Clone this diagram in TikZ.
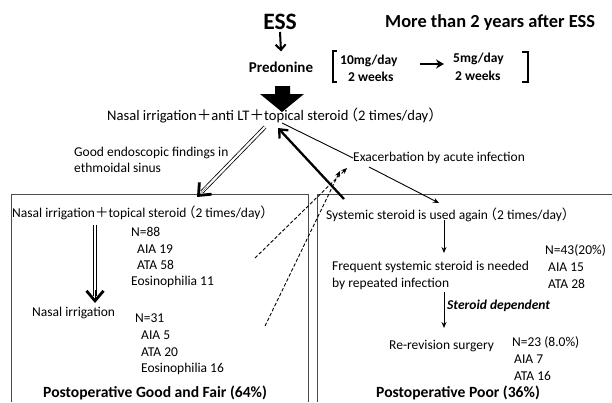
\documentclass[tikz,border=0pt]{standalone}
\usepackage{fontspec}
\setmainfont{Carlito}
\newfontfamily\cjk{Noto Sans CJK JP}
\usetikzlibrary{arrows.meta,calc}
\newcommand\fplus{{\cjk ＋}}
\newcommand\flp{\kern-0.33em{\cjk （}}
\newcommand\frp{{\cjk ）}}
\begin{document}
\begin{tikzpicture}[x=1pt,y=-1pt,
  txt/.style={inner sep=0pt, anchor=west, font=\fontsize{13.5}{16}\selectfont},
  bigtxt/.style={inner sep=0pt, anchor=west, font=\fontsize{14.6}{17}\selectfont},
  btxt/.style={inner sep=0pt, anchor=west, font=\bfseries\fontsize{13.5}{16}\selectfont},
  ttl/.style={inner sep=0pt, anchor=west, font=\bfseries\fontsize{15.6}{18}\selectfont},
  boxline/.style={draw=black!70, line width=0.8pt},
  thinarrow/.style={line width=0.9pt, -{Stealth[length=6pt,width=5pt]}},
  dasharrow/.style={line width=0.9pt, dash pattern=on 3.5pt off 2pt, -{Stealth[length=6pt,width=5pt]}},
  dblline/.style={line width=0.8pt, double=white, double distance=2.2pt},
  chevron/.style={line width=0.1pt, -{Straight Barb[line width=2.8pt,length=10pt,width=17pt]}}]
\useasboundingbox[fill=white] (0,0) rectangle (612,402);

% top part
\node[inner sep=0pt, font=\bfseries\fontsize{23.5}{26}\selectfont] (ess) at (280,22) {ESS};
\node[inner sep=0pt, font=\bfseries\fontsize{18.4}{21}\selectfont, anchor=west] (more) at (385,22) {More than 2 years after ESS};
\node[inner sep=0pt, font=\bfseries\fontsize{15}{17}\selectfont] (pred) at (281,67) {Predonine};
\draw[line width=2pt, -{Straight Barb[length=5.5pt,width=10pt]}] ([yshift=-2pt]ess.south) -- ([yshift=10pt]pred.north);

\node[btxt] (d10) at (340,61) {10mg/day};
\node[btxt] (w1) at (348,77) {2 weeks};
\node[btxt] (d5) at (453,59) {5mg/day};
\node[btxt] (w2) at (455,76) {2 weeks};
\draw[line width=1.3pt] (337,51) -- (333,51) -- (333,82) -- (337,82);
\draw[line width=1.3pt] (522,52) -- (528,52) -- (528,82) -- (522,82);
\coordinate (ar1) at (420,64);
\coordinate (ar2) at (444,64);
\draw[line width=2pt, -{Stealth[length=8pt,width=9pt]}] (ar1) -- (ar2);

% block arrow
\fill[black] (275,86) -- (290,86) -- (290,94) -- (304,94) -- (282,112) -- (260,94) -- (275,94) -- cycle;

\node[bigtxt] (main) at (107,116) {Nasal irrigation\fplus anti LT\fplus topical steroid\flp 2 times/day\frp};

\node[txt, align=left] (good) at (74,160) {Good endoscopic findings in\\ethmoidal sinus};
\node[txt] (exac) at (353,158) {Exacerbation by acute infection};

% boxes
\draw[boxline] (11,402) -- (11,194) -- (308,194) -- (308,402);
\draw[boxline] (317,402) -- (317,194) -- (612,194);

% left box
\node[txt] (nt) at (12,213) {Nasal irrigation\fplus topical steroid\flp 2 times/day\frp};
\node[txt] (n88) at (131,232) {N=88};
\node[txt] (a19) at (137,249) {AIA 19};
\node[txt] (t58) at (137,265) {ATA 58};
\node[txt] (e11) at (131,282) {Eosinophilia 11};
\node[txt] (ni) at (32,313) {Nasal irrigation};
\node[txt] (n31) at (135,318) {N=31};
\node[txt] (a5) at (141,335) {AIA 5};
\node[txt] (t20) at (141,352) {ATA 20};
\node[txt] (e16) at (141,369) {Eosinophilia 16};
\node[ttl] (pg) at (43,393) {Postoperative Good and Fair (64\%)};

% right box
\node[txt] (sys) at (326,215) {Systemic steroid is used again\flp 2 times/day\frp};
\node[txt] (n43) at (545,250) {N=43(20\%)};
\node[txt] (freq) at (332,267) {Frequent systemic steroid is needed};
\node[txt] (a15) at (548,267) {AIA 15};
\node[txt] (rep) at (332,284) {by repeated infection};
\node[txt] (t28) at (548,284) {ATA 28};
\node[txt, font=\bfseries\itshape\fontsize{13.5}{16}\selectfont] (sd) at (447,306) {Steroid dependent};
\node[txt] (rr) at (389,346) {Re-revision surgery};
\node[txt] (n23) at (512,342) {N=23 (8.0\%)};
\node[txt] (a7) at (514,359) {AIA 7};
\node[txt] (t16) at (514,376) {ATA 16};
\node[ttl] (pp) at (376,393) {Postoperative Poor (36\%)};

% connectors
\coordinate (dA) at (265,127);
\coordinate (dB) at (197,197);
\draw[dblline, shorten >=7pt] (dA) -- (dB);
\draw[chevron] ($(dA)!0.85!(dB)$) -- (dB);

\coordinate (vA) at (95,225);
\coordinate (vB) at (95,303);
\draw[dblline, shorten >=7pt] (vA) -- (vB);
\draw[chevron] (95,290) -- (vB);

\coordinate (thA) at (344,199);
\coordinate (thB) at (278,128);
\draw[line width=2.3pt, -{Straight Barb[length=7pt,width=12pt]}] (thA) -- (thB);

\coordinate (mx) at (282,123);
\draw[line width=0.9pt] (mx) -- (exac.west);
\coordinate (ex1) at (369,167);
\coordinate (sy1) at (439,203);
\draw[thinarrow] (ex1) -- (sy1);

\coordinate (ds1) at (255,258);
\coordinate (dt1) at (347,168);
\coordinate (ds2) at (265,326);
\coordinate (dt2) at (340,171);
\draw[dasharrow] (ds1) -- (dt1);
\draw[dasharrow] (ds2) -- (dt2);

\draw[thinarrow] (444,220) -- (444,253);
\draw[thinarrow] (444,292) -- (444,328);
\end{tikzpicture}
\end{document}
